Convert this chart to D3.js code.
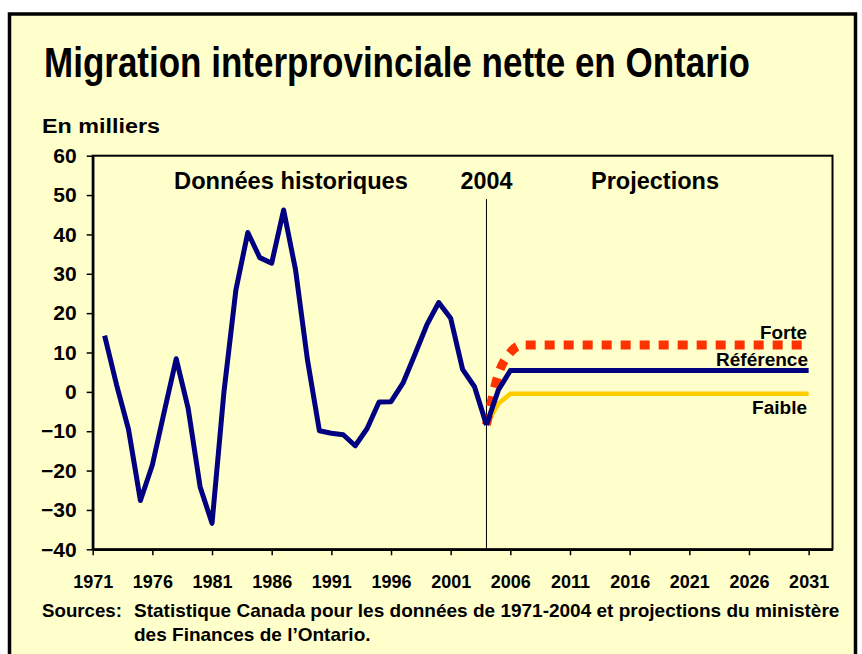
<!DOCTYPE html>
<html>
<head>
<meta charset="utf-8">
<script src="https://cdn.jsdelivr.net/npm/d3@7"></script>
<style>
  body { margin: 0; background: #fff; }
  text { font-family: "Liberation Sans", Arial, sans-serif; font-weight: bold; fill: #000; }
</style>
</head>
<body>
<div id="chart"></div>
<script>
// --- data (thousands of people) ---
const histYears = d3.range(1972, 2005); // 1972..2004
const histValues = [14.3, 1.8, -9.5, -27.6, -18.6, -5.0, 8.4, -4.2, -24.1, -33.4,
  0.0, 25.9, 40.5, 34.1, 32.7, 46.2, 31.0, 8.1, -9.9, -10.5,
  -10.9, -13.7, -9.3, -2.6, -2.5, 2.2, 9.5, 17.0, 22.7, 18.7,
  5.7, 1.3, -8.4];

const projYears = d3.range(2004, 2032); // 2004..2031
const refValues = [-8.4, 0.5, 5.4, 5.4, 5.4, 5.4, 5.4, 5.4, 5.4, 5.4,
  5.4, 5.4, 5.4, 5.4, 5.4, 5.4, 5.4, 5.4, 5.4, 5.4,
  5.4, 5.4, 5.4, 5.4, 5.4, 5.4, 5.4, 5.4];
const forteValues = [-8.4, 4.5, 10.0, 11.9, 11.9, 11.9, 11.9, 11.9, 11.9, 11.9,
  11.9, 11.9, 11.9, 11.9, 11.9, 11.9, 11.9, 11.9, 11.9, 11.9,
  11.9, 11.9, 11.9, 11.9, 11.9, 11.9, 11.9, 11.9];
const faibleValues = [-8.4, -3.0, -0.5, -0.5, -0.5, -0.5, -0.5, -0.5, -0.5, -0.5,
  -0.5, -0.5, -0.5, -0.5, -0.5, -0.5, -0.5, -0.5, -0.5, -0.5,
  -0.5, -0.5, -0.5, -0.5, -0.5, -0.5, -0.5, -0.5];

const xTicks = d3.range(1971, 2032, 5);
const yTicks = d3.range(-40, 61, 10);

// --- layout ---
const W = 862, H = 654;
const svg = d3.select("#chart").append("svg")
  .attr("width", W).attr("height", H);

// squeeze a text horizontally so it spans `width` px (the original uses a narrow bold face)
function fit(sel, width) {
  const node = sel.node();
  const s = width / node.getComputedTextLength();
  const tx = +sel.attr("x"), ty = +sel.attr("y");
  sel.attr("x", 0).attr("y", 0)
    .attr("transform", `translate(${tx},${ty}) scale(${s},1)`);
  return s;
}
function label(x0, y0, size, txt, anchor) {
  return svg.append("text").attr("x", x0).attr("y", y0)
    .attr("font-size", size).attr("text-anchor", anchor || "start").text(txt);
}

// cream panel with thick black frame
svg.append("rect")
  .attr("x", 9.5).attr("y", 14).attr("width", 846).attr("height", 660)
  .attr("fill", "#FFFFCC").attr("stroke", "#000").attr("stroke-width", 3.5);

// title and unit label
fit(label(44, 77, 42, "Migration interprovinciale nette en Ontario"), 706);
fit(label(42, 133, 20, "En milliers"), 118);

// scales
const x = d3.scaleLinear().domain([1971, 2033]).range([92.7, 832.5]);
const y = d3.scaleLinear().domain([-40, 60]).range([549.3, 155.7]);

// plot frame (top and right)
svg.append("rect")
  .attr("x", x(1971)).attr("y", y(60))
  .attr("width", x(2033) - x(1971)).attr("height", y(-40) - y(60))
  .attr("fill", "none").attr("stroke", "#000").attr("stroke-width", 2);

// axes
const xAxis = d3.axisBottom(x).tickValues(xTicks).tickFormat(d3.format("d"))
  .tickSizeInner(6).tickSizeOuter(0).tickPadding(20);
const gx = svg.append("g").attr("transform", `translate(0,${y(-40)})`).call(xAxis);
gx.select(".domain").attr("stroke-width", 2.5);
gx.selectAll(".tick line").attr("stroke-width", 1.5);
gx.selectAll("text").attr("font-size", 18).attr("font-family", null);

const yAxis = d3.axisLeft(y).tickValues(yTicks).tickSizeInner(6).tickSizeOuter(0).tickPadding(10);
const gy = svg.append("g").attr("transform", `translate(${x(1971)},0)`).call(yAxis);
gy.select(".domain").attr("stroke-width", 2.5);
gy.selectAll(".tick line").attr("stroke-width", 1.5);
gy.selectAll("text").attr("font-size", 21).attr("font-family", null).attr("x", -16);

// 2004 divider
svg.append("line")
  .attr("x1", x(2004)).attr("x2", x(2004))
  .attr("y1", 199).attr("y2", y(-40))
  .attr("stroke", "#000").attr("stroke-width", 1);

// section labels
fit(label(291, 189, 23.5, "Données historiques", "middle"), 234);
fit(label(x(2004), 189, 23.5, "2004", "middle"), 52);
fit(label(655, 189, 23.5, "Projections", "middle"), 128);

// lines
const line = d3.line().x(d => x(d[0])).y(d => y(d[1]));
const smooth = d3.line().x(d => x(d[0])).y(d => y(d[1])).curve(d3.curveMonotoneX);
const pairs = (years, vals) => years.map((yr, i) => [yr, vals[i]]);

svg.append("path").datum(pairs(projYears, faibleValues))
  .attr("d", line).attr("fill", "none")
  .attr("stroke", "#FFCC00").attr("stroke-width", 4.5);

svg.append("path").datum(pairs(projYears, forteValues))
  .attr("d", smooth).attr("fill", "none")
  .attr("stroke", "#FF3300").attr("stroke-width", 9)
  .attr("stroke-dasharray", "10 9");

svg.append("path").datum(pairs(projYears, refValues))
  .attr("d", line).attr("fill", "none")
  .attr("stroke", "#000080").attr("stroke-width", 5).attr("stroke-linejoin", "round");

svg.append("path").datum(pairs(histYears, histValues))
  .attr("d", line).attr("fill", "none")
  .attr("stroke", "#000080").attr("stroke-width", 5).attr("stroke-linejoin", "round");

// scenario labels
fit(label(807, 339, 19, "Forte", "end"), 47);
fit(label(808, 366, 19, "Référence", "end"), 92);
fit(label(807, 414, 19, "Faible", "end"), 55);

// sources note
fit(label(42, 617, 18, "Sources:"), 80);
const s = fit(label(134, 617, 18,
  "Statistique Canada pour les données de 1971-2004 et projections du ministère"), 706);
label(134, 641, 18, "des Finances de l’Ontario.")
  .attr("x", 0).attr("y", 0).attr("transform", `translate(134,641) scale(${s},1)`);
</script>
</body>
</html>
